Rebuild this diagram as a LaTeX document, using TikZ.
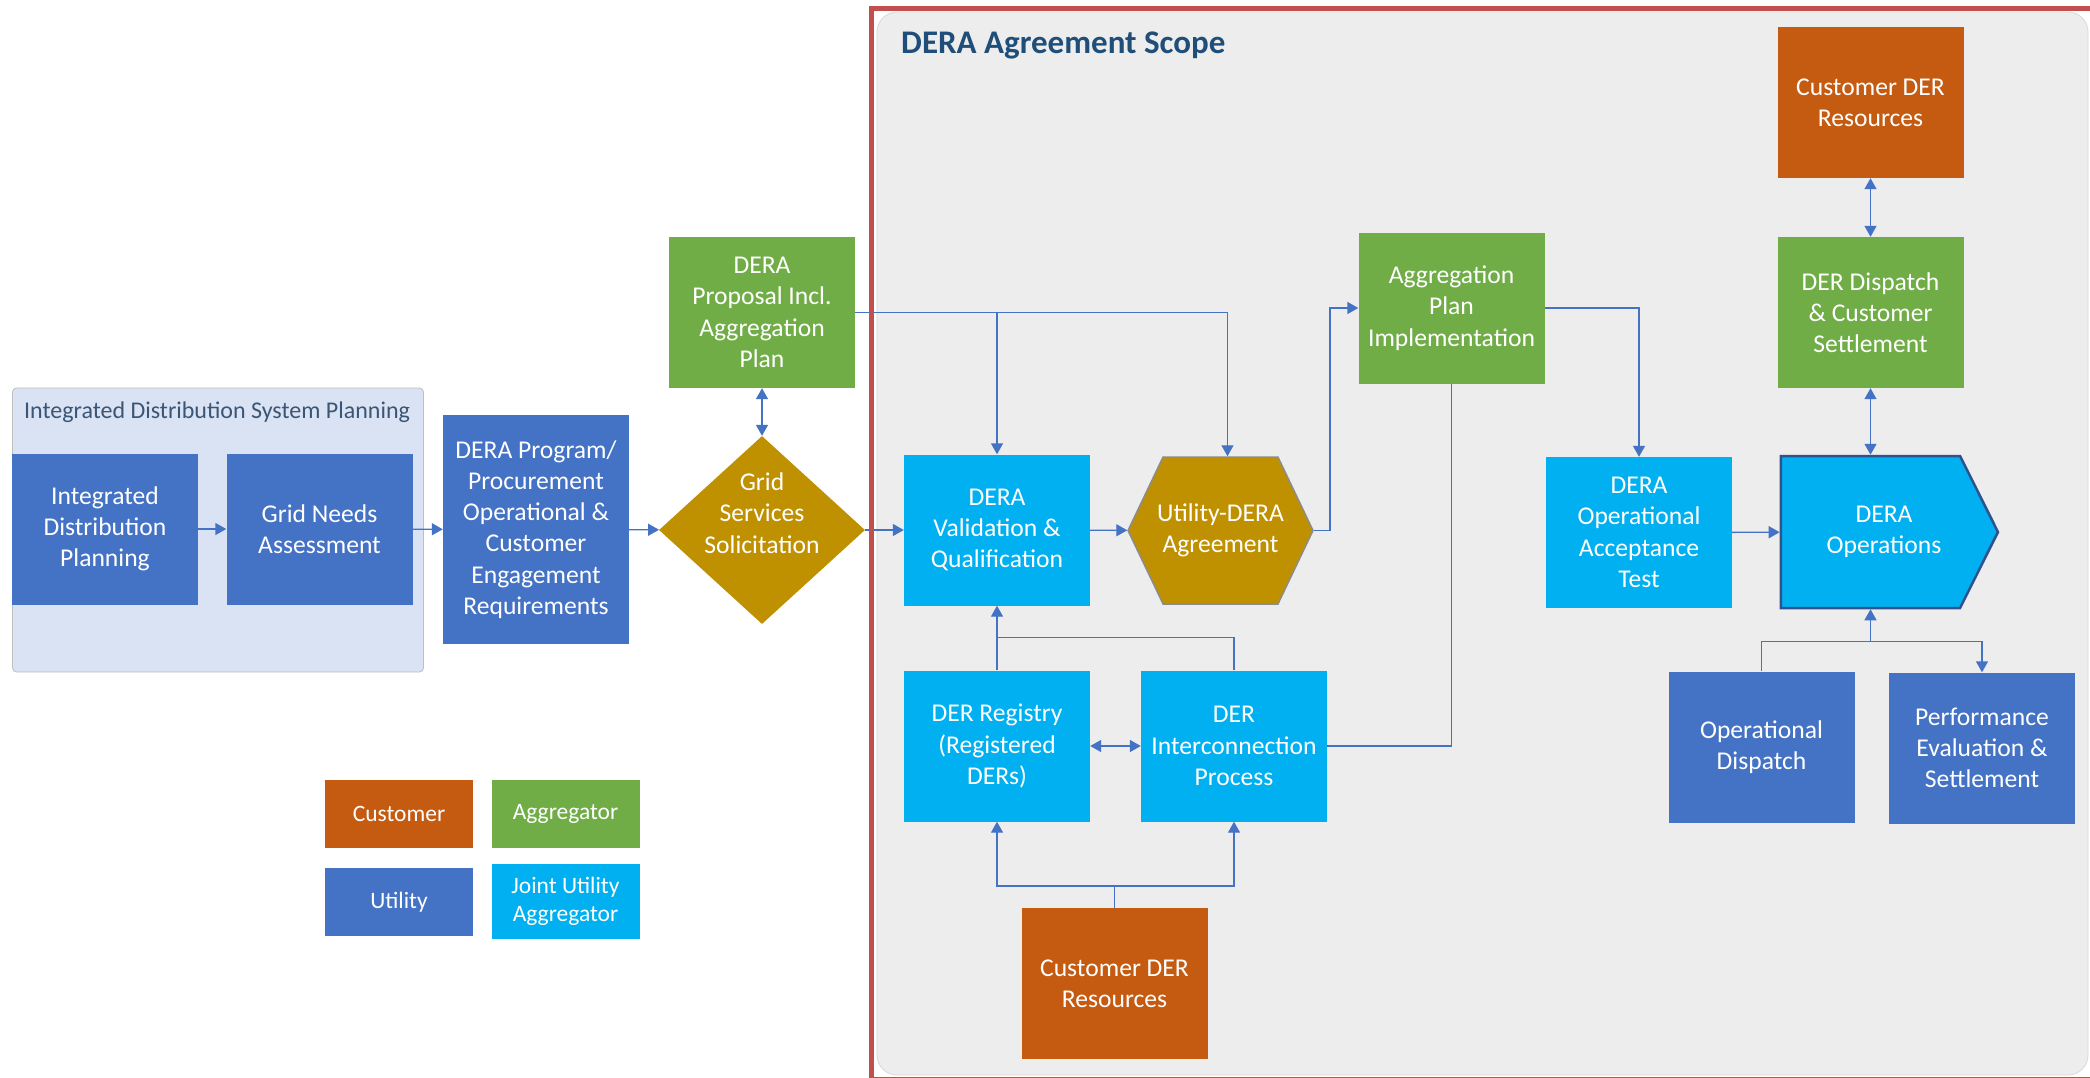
\documentclass[tikz,border=0pt]{standalone}
\usepackage{fontspec}
\setmainfont{Carlito}
\usetikzlibrary{arrows.meta,shapes.geometric,shapes.symbols}

\definecolor{utilblue}{HTML}{4472C4}
\definecolor{aggrgreen}{HTML}{70AD47}
\definecolor{custorange}{HTML}{C55A11}
\definecolor{jointcyan}{HTML}{00B0F0}
\definecolor{solgold}{HTML}{BF9000}
\definecolor{scopered}{HTML}{C0504D}
\definecolor{scopegray}{HTML}{EDEDED}
\definecolor{planblue}{HTML}{DAE3F3}
\definecolor{titleblue}{HTML}{1F4E79}
\definecolor{plantext}{HTML}{3B5575}
\definecolor{opsborder}{HTML}{2F528F}

\begin{document}
\begin{tikzpicture}[x=1pt,y=-1pt,
		box/.style={rectangle, inner sep=0pt, text=white, align=center,
			minimum width=186pt, minimum height=151pt,
			font=\fontsize{25.6}{31.3}\selectfont},
		utility/.style={box, fill=utilblue},
		aggregator/.style={box, fill=aggrgreen},
		customer/.style={box, fill=custorange},
		joint/.style={box, fill=jointcyan},
		legendbox/.style={box, minimum width=148pt, minimum height=68pt,
			font=\fontsize{23.5}{28}\selectfont},
		link/.style={color=utilblue, line width=1.4pt},
		arr/.style={link, -{Triangle[length=11pt,width=12pt]}},
		biarr/.style={link, {Triangle[length=11pt,width=12pt]}-{Triangle[length=11pt,width=12pt]}}]
		\fill[white] (0,0) rectangle (2090,1077);
		\useasboundingbox (0,0) rectangle (2090,1077);
		\node[rectangle, rounded corners=4pt, fill=planblue, draw=black!25, line width=0.8pt,
			minimum width=411pt, minimum height=284pt] (idsp) at (218,530) {};
		\node[anchor=base west, inner sep=0pt, text=plantext,
			font=\fontsize{24}{28}\selectfont] (idsptitle) at (24,418) {Integrated Distribution System Planning};
		\node[rectangle, rounded corners=20pt, fill=scopegray, draw=black!15, line width=0.8pt,
			minimum width=1211pt, minimum height=1063pt] (scope) at (1482.5,543.5) {};
		\node[anchor=base west, inner sep=0pt, text=titleblue,
			font=\fontsize{33}{40}\selectfont\bfseries] (scopetitle) at (901,53) {DERA Agreement Scope};

		\node[utility] (idp) at (105,529) {Integrated\\Distribution\\Planning};
		\node[utility] (gna) at (319.5,529) {Grid Needs\\Assessment};
		\node[utility, minimum height=229pt] (prog) at (536,529.5) {DERA Program/\\Procurement\\Operational \&\\Customer\\Engagement\\Requirements};
		\node[aggregator] (prop) at (762,312.5) {DERA\\Proposal Incl.\\Aggregation\\Plan};
		\node[box, diamond, aspect=1.1, fill=solgold, minimum width=206pt, minimum height=188pt,
			label={[box, minimum width=0pt, minimum height=0pt, yshift=17pt]center:Grid\\Services\\Solicitation}] (gss) at (762,530) {};
		\node[joint] (val) at (997,530) {DERA\\Validation \&\\Qualification};
		\node[box, signal, signal to=east and west, signal pointer angle=129, fill=solgold, inner xsep=-7pt,
			draw=black!45, line width=1.5pt, minimum width=185pt, minimum height=147pt] (hex) at (1220.5,530.5) {Utility-DERA\\Agreement};
		\node[aggregator] (agg) at (1451.5,308) {Aggregation\\Plan\\Implementation};
		\node[joint] (oat) at (1639,532.5) {DERA\\Operational\\Acceptance\\Test};
		\node[box, signal, signal to=east, signal from=nowhere, signal pointer angle=127, fill=jointcyan,
			draw=opsborder, line width=2.5pt, minimum width=217pt, minimum height=152pt] (ops) at (1870.5,532) {\hspace*{27pt}DERA\\\hspace*{27pt}Operations};
		\node[customer] (custtop) at (1870.5,102.5) {Customer DER\\Resources};
		\node[aggregator] (disp) at (1870.5,312.5) {DER Dispatch\\\& Customer\\Settlement};
		\node[joint] (reg) at (997,746) {DER Registry\\(Registered\\DERs)};
		\node[joint] (intc) at (1234,746) {DER\\Interconnection\\Process};
		\node[customer] (custbot) at (1114.5,983.5) {Customer DER\\Resources};
		\node[utility] (opd) at (1761.5,747) {Operational\\Dispatch};
		\node[utility] (perf) at (1982,748) {Performance\\Evaluation \&\\Settlement};

		\node[legendbox, fill=custorange] (lcust) at (399,814) {Customer};
		\node[legendbox, fill=aggrgreen] (laggr) at (565.5,814) {Aggregator};
		\node[legendbox, fill=utilblue] (lutil) at (399,902) {Utility};
		\node[legendbox, fill=jointcyan, minimum height=75pt] (ljoint) at (565.5,901.5) {Joint Utility\\Aggregator};

		\coordinate (valjoin) at ([yshift=-32pt]val.south);
		\coordinate (custjoin) at ([yshift=22pt]custbot.north);
		\coordinate (opsjoin) at ([yshift=-32pt]ops.south);

		\path[arr]
		(idp) edge (gna)
		(gna) edge (prog)
		(prog) edge (gss)
		(gss) edge (val)
		(val) edge (hex)
		(oat) edge (ops)
		(reg) edge (val);
		\path[biarr]
		(prop) edge (gss)
		(custtop) edge (disp)
		(disp) edge (disp.south |- ops.north)
		(reg) edge (intc);
		\draw[arr] (prop.east) -| (val.north);
		\draw[arr] (prop.east) -| ([xshift=7pt]hex.north);
		\draw[arr] (hex.east) -- ++(16,0) |- (agg.west);
		\draw[arr] (agg.east) -| (oat.north);
		\draw[link] (intc.east) -| (agg.south);
		\draw[link] (intc.north) |- (valjoin);
		\draw[arr] (custbot.north) -- (custjoin) -| (reg.south);
		\draw[arr] (custjoin) -| (intc.south);
		\draw[arr] (opsjoin) -- (ops.south);
		\draw[link] (opd.north) |- (opsjoin);
		\draw[arr] (opsjoin) -| (perf.north);

		\draw[scopered, line width=5pt] (871,8) rectangle (2096,1079);
\end{tikzpicture}
\end{document}
